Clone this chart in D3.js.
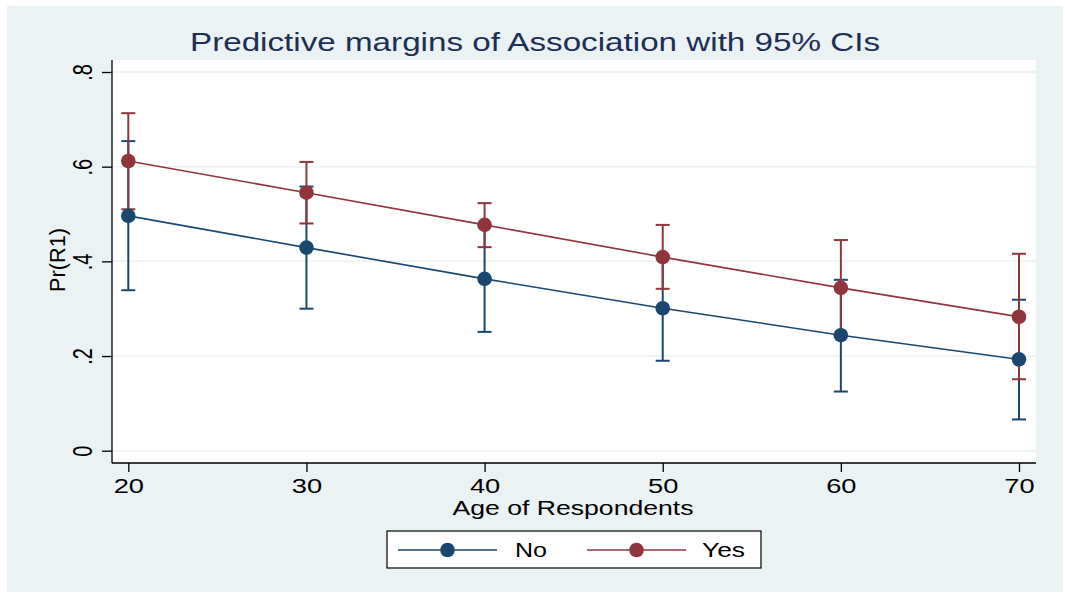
<!DOCTYPE html>
<html lang="en">
<head>
<meta charset="UTF-8">
<script src="https://d3js.org/d3.v7.min.js"></script>
<title>Predictive margins</title>
<style>
  body { margin: 0; background: #fff; }
  text { font-family: "Liberation Sans", Arial, sans-serif; }
</style>
</head>
<body>
<svg width="1065" height="593"></svg>
<script>
// ages on x axis
const ages = [20, 30, 40, 50, 60, 70];
// predicted Pr(R1), Association = No
const noFit = [0.496, 0.429, 0.363, 0.301, 0.244, 0.193];
const noLow = [0.339, 0.300, 0.251, 0.190, 0.125, 0.066];
const noHigh = [0.654, 0.558, 0.475, 0.412, 0.361, 0.319];
// predicted Pr(R1), Association = Yes
const yesFit = [0.612, 0.545, 0.477, 0.409, 0.344, 0.283];
const yesLow = [0.510, 0.480, 0.430, 0.342, 0.243, 0.151];
const yesHigh = [0.713, 0.610, 0.523, 0.477, 0.445, 0.416];
const yTicks = [0, 0.2, 0.4, 0.6, 0.8];
const yTickLabels = ["0", ".2", ".4", ".6", ".8"];
const seriesNames = ["No", "Yes"];

const blue = "#1a476f", red = "#90353b", bg = "#eaf2f3";

const svg = d3.select("svg");
const pLeft = 112, pRight = 1036, pTop = 60, pBottom = 463;

// outer panel
svg.append("rect").attr("x", 7).attr("y", 6).attr("width", 1056).attr("height", 586).attr("fill", bg);
svg.append("rect").attr("x", pLeft).attr("y", pTop).attr("width", pRight - pLeft).attr("height", pBottom - pTop).attr("fill", "#fff");

const x = d3.scaleLinear().domain([20, 70]).range([128.3, 1019]);
const y = d3.scaleLinear().domain([0, 0.8]).range([450.7, 72]);

// grid
svg.append("g").selectAll("line").data(yTicks).enter().append("line")
  .attr("x1", pLeft).attr("x2", pRight)
  .attr("y1", d => y(d)).attr("y2", d => y(d))
  .attr("stroke", bg).attr("stroke-width", 1.5);

// axes
const yAxis = svg.append("g").attr("transform", "translate(" + pLeft + ",0)")
  .call(d3.axisLeft(y).tickValues(yTicks).tickSize(10).tickPadding(0).tickFormat((d, i) => yTickLabels[i]));
yAxis.select(".domain").attr("d", "M0," + pTop + "V" + pBottom).attr("stroke", "#000").attr("stroke-width", 1.3);
yAxis.selectAll(".tick line").attr("stroke", "#000").attr("stroke-width", 1.3);
yAxis.selectAll(".tick text")
  .attr("x", null).attr("dy", null)
  .attr("transform", "translate(-20,0) scale(1.4,1) rotate(-90)")
  .attr("text-anchor", "middle").attr("font-size", 20).attr("fill", "#000")
  .attr("font-family", "Liberation Sans, Arial, sans-serif");

const xAxis = svg.append("g").attr("transform", "translate(0," + pBottom + ")")
  .call(d3.axisBottom(x).tickValues(ages).tickSize(9).tickPadding(6).tickFormat(d3.format("d")));
xAxis.select(".domain").attr("d", "M" + pLeft + ",0H" + pRight).attr("stroke", "#000").attr("stroke-width", 1.3);
xAxis.selectAll(".tick line").attr("stroke", "#000").attr("stroke-width", 1.3);
xAxis.selectAll(".tick text").attr("font-size", 21).attr("fill", "#000")
  .attr("transform", "scale(1.3,1)")
  .attr("font-family", "Liberation Sans, Arial, sans-serif");

// titles
svg.append("text").attr("x", 535).attr("y", 51).attr("text-anchor", "middle")
  .attr("font-size", 25).attr("fill", "#1e2f55")
  .attr("textLength", 690).attr("lengthAdjust", "spacingAndGlyphs")
  .text("Predictive margins of Association with 95% CIs");
svg.append("text").attr("x", 573).attr("y", 515).attr("text-anchor", "middle")
  .attr("font-size", 20).attr("fill", "#000")
  .attr("textLength", 241).attr("lengthAdjust", "spacingAndGlyphs")
  .text("Age of Respondents");
svg.append("text").attr("transform", "translate(65,260) scale(1.1,1) rotate(-90)").attr("text-anchor", "middle")
  .attr("font-size", 20).attr("fill", "#000")
  .attr("textLength", 64).attr("lengthAdjust", "spacingAndGlyphs")
  .text("Pr(R1)");

function drawCI(low, high, color) {
  const g = svg.append("g").attr("stroke", color).attr("stroke-width", 2);
  g.selectAll(".bar").data(ages).enter().append("line")
    .attr("x1", d => x(d)).attr("x2", d => x(d))
    .attr("y1", (d, i) => y(low[i])).attr("y2", (d, i) => y(high[i]));
  [low, high].forEach(arr => {
    g.selectAll(null).data(ages).enter().append("line")
      .attr("x1", d => x(d) - 7).attr("x2", d => x(d) + 7)
      .attr("y1", (d, i) => y(arr[i])).attr("y2", (d, i) => y(arr[i]));
  });
}
function drawFit(fit, color) {
  const line = d3.line().x((d, i) => x(ages[i])).y(d => y(d));
  svg.append("path").datum(fit).attr("d", line).attr("fill", "none")
    .attr("stroke", color).attr("stroke-width", 1.6);
  svg.append("g").selectAll("circle").data(fit).enter().append("circle")
    .attr("cx", (d, i) => x(ages[i])).attr("cy", d => y(d)).attr("r", 7.3).attr("fill", color);
}
drawCI(noLow, noHigh, blue);
drawCI(yesLow, yesHigh, red);
drawFit(noFit, blue);
drawFit(yesFit, red);

// legend
const lg = svg.append("g");
lg.append("rect").attr("x", 387).attr("y", 531).attr("width", 374).attr("height", 37)
  .attr("fill", "#fff").attr("stroke", "#000").attr("stroke-width", 1.2);
const legItems = [
  { name: seriesNames[0], color: blue, x0: 398, tx: 515, tw: 32 },
  { name: seriesNames[1], color: red, x0: 587, tx: 702, tw: 43 }
];
legItems.forEach(it => {
  lg.append("line").attr("x1", it.x0).attr("x2", it.x0 + 99).attr("y1", 550).attr("y2", 550)
    .attr("stroke", it.color).attr("stroke-width", 1.6);
  lg.append("circle").attr("cx", it.x0 + 49.5).attr("cy", 550).attr("r", 7.3).attr("fill", it.color);
  lg.append("text").attr("x", it.tx).attr("y", 557).attr("font-size", 20).attr("fill", "#000")
    .attr("textLength", it.tw).attr("lengthAdjust", "spacingAndGlyphs").text(it.name);
});
</script>
</body>
</html>
